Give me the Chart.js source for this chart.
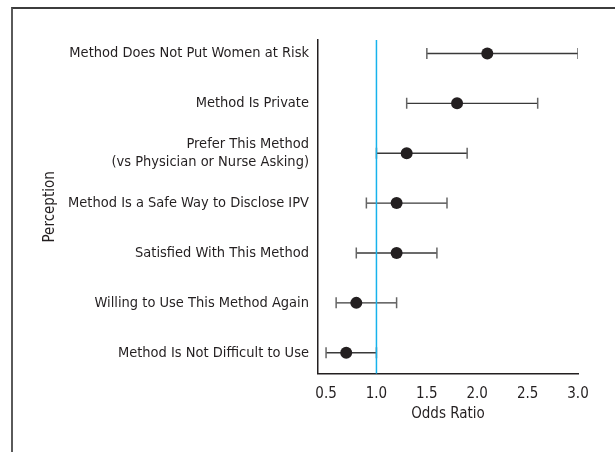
<!DOCTYPE html>
<html>
<head>
<meta charset="utf-8">
<script src="https://cdn.jsdelivr.net/npm/chart.js@4"></script>
<style>
  html, body { margin: 0; padding: 0; background: #fff; }
  #wrap { position: relative; width: 615px; height: 452px; overflow: hidden; }
  #frame {
    position: absolute; left: 11px; top: 7px; right: -5px; bottom: -5px;
    border-top: 2px solid #3c3c3c; border-left: 2px solid #5a5a5a;
  }
  canvas { position: absolute; left: 0; top: 0; }
</style>
</head>
<body>
<div id="wrap">
  <div id="frame"></div>
  <canvas id="chart" width="615" height="452"></canvas>
</div>
<script>
// --- Data (top row first) ---
const perceptions = [
  "Method Does Not Put Women at Risk",
  "Method Is Private",
  ["Prefer This Method", "(vs Physician or Nurse Asking)"],
  "Method Is a Safe Way to Disclose IPV",
  "Satisfied With This Method",
  "Willing to Use This Method Again",
  "Method Is Not Difficult to Use"
];
const oddsRatio = [2.1, 1.8, 1.3, 1.2, 1.2, 0.8, 0.7];
const ciLow = [1.5, 1.3, 1.0, 0.9, 0.8, 0.6, 0.5];
const ciHigh = [3.0, 2.6, 1.9, 1.7, 1.6, 1.2, 1.0];
const xTicks = [0.5, 1.0, 1.5, 2.0, 2.5, 3.0];
const refValue = 1.0;

const FONT = "'DejaVu Sans Condensed', 'Roboto', sans-serif";
const INK = "#231f20";
const Y_MIN = 0.58, Y_MAX = 7.27;

// row i sits at y = n - i (top row highest)
const rowY = i => perceptions.length - i;

const datasets = [];

// points
datasets.push({
  type: "scatter",
  data: oddsRatio.map((v, i) => ({ x: v, y: rowY(i) })),
  backgroundColor: INK,
  borderWidth: 0,
  pointRadius: 6,
  order: 0
});

// reference line at OR = 1
datasets.push({
  type: "line",
  data: [{ x: refValue, y: Y_MIN }, { x: refValue, y: Y_MAX }],
  borderColor: "#16b2ec",
  borderWidth: 1.5,
  pointRadius: 0,
  order: 1
});

// confidence intervals with end caps
ciLow.forEach((lo, i) => {
  datasets.push({
    type: "line",
    data: [{ x: lo, y: rowY(i) }, { x: ciHigh[i], y: rowY(i) }],
    borderColor: "#3a3a3a",
    borderWidth: 1.4,
    pointStyle: "line",
    pointRotation: 90,
    pointRadius: 5.5,
    pointBorderColor: "#666",
    pointBorderWidth: 1.5,
    order: 2
  });
});

new Chart(document.getElementById("chart"), {
  data: { datasets },
  options: {
    responsive: false,
    animation: false,
    events: [],
    layout: { padding: { top: 40, right: 37, bottom: 22.3, left: 40 } },
    plugins: { legend: { display: false }, tooltip: { enabled: false } },
    scales: {
      x: {
        type: "linear",
        min: 0.42,
        max: 3.0,
        afterBuildTicks: s => { s.ticks = xTicks.map(v => ({ value: v })); },
        afterFit: s => { s.height = 56; },
        ticks: {
          padding: 11,
          color: INK,
          font: { family: FONT, size: 15 },
          callback: v => v.toFixed(1)
        },
        grid: { display: true, drawOnChartArea: false, drawTicks: false },
        border: { display: true, color: INK, width: 1.5 },
        title: {
          display: true,
          text: "Odds Ratio",
          color: INK,
          font: { family: FONT, size: 15 },
          padding: { top: 0, bottom: 6.7 }
        }
      },
      y: {
        type: "linear",
        min: Y_MIN,
        max: Y_MAX,
        afterBuildTicks: s => { s.ticks = perceptions.map((p, i) => ({ value: rowY(i) })); },
        afterFit: s => { s.width = 278; },
        ticks: {
          padding: 9,
          color: INK,
          font: { family: FONT, size: 14.5, lineHeight: 1.25 },
          callback: v => perceptions[perceptions.length - v]
        },
        grid: { display: true, drawOnChartArea: false, drawTicks: false },
        border: { display: true, color: INK, width: 1.5 },
        title: {
          display: true,
          text: "Perception",
          color: INK,
          font: { family: FONT, size: 15 },
          padding: { top: 1.5, bottom: 0 }
        }
      }
    }
  }
});
</script>
</body>
</html>
